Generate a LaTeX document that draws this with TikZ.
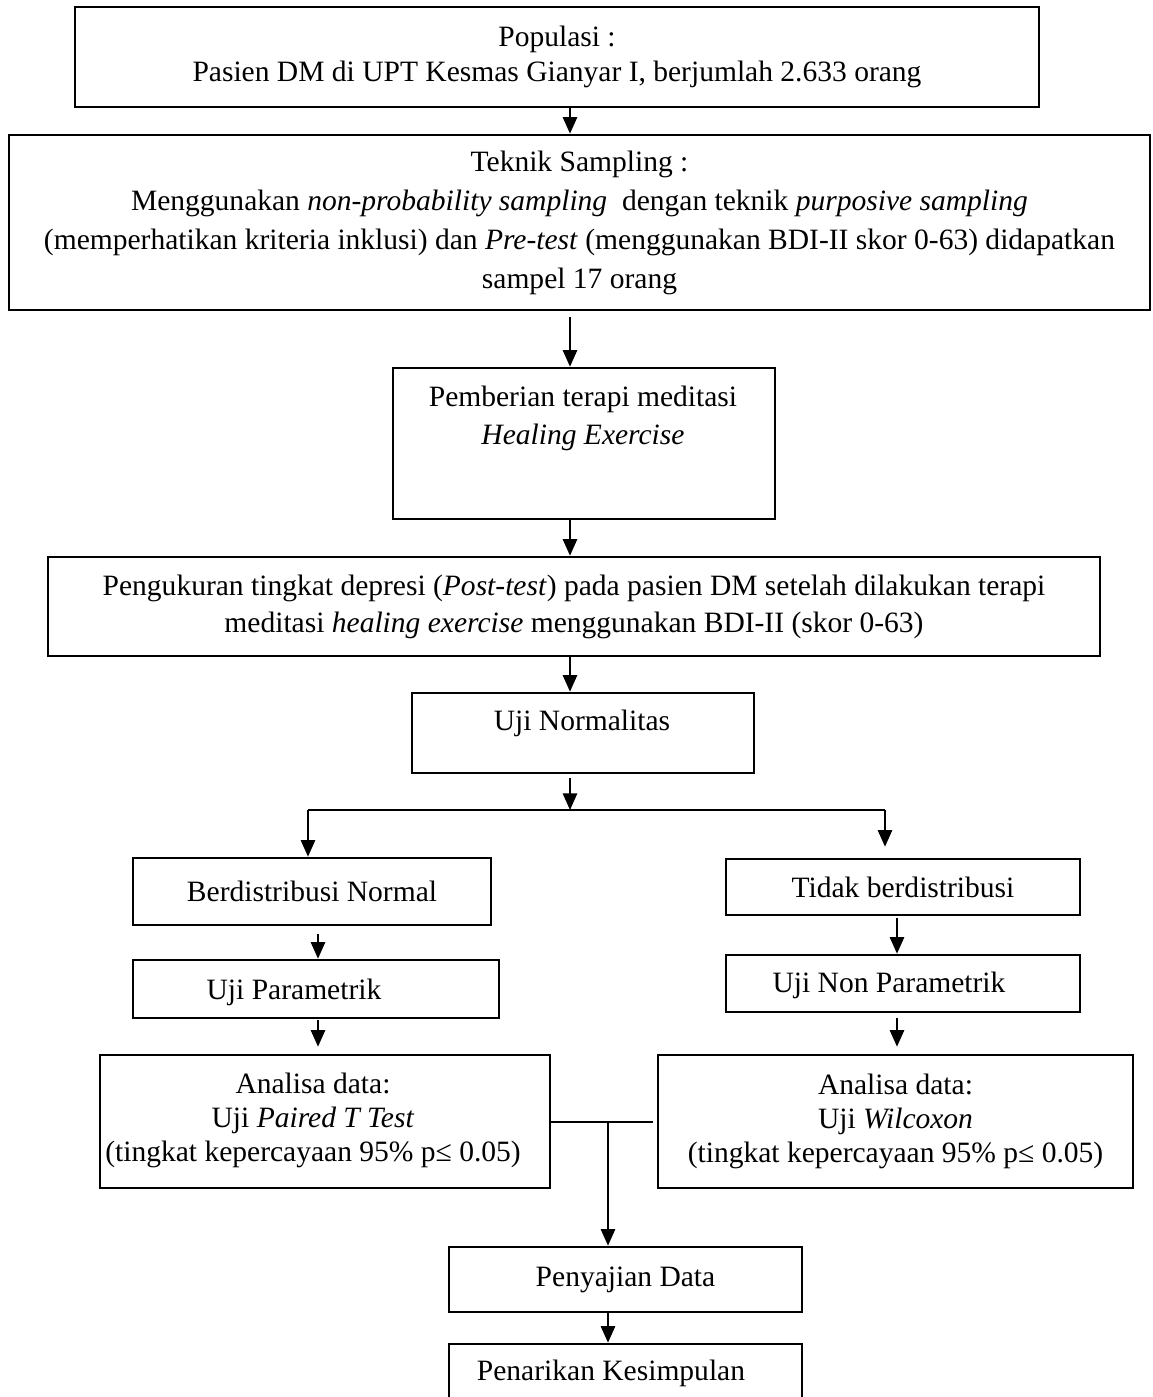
\documentclass[tikz,border=0pt]{standalone}
\usepackage{fontspec}
\setmainfont{Liberation Serif}
\usetikzlibrary{arrows.meta,calc}
\begin{document}
\begin{tikzpicture}[x=0.42pt,y=-0.42pt,
  box/.style={draw, line width=1.1pt, inner sep=0pt, align=center,
    font=\fontsize{12.4}{15.5}\selectfont},
  txt/.style={inner sep=0pt, align=center, font=\fontsize{12.4}{15.5}\selectfont},
  arr/.style={line width=0.85pt, -{Triangle[length=7pt,width=6pt]}},
  ln/.style={line width=0.85pt}]
\useasboundingbox (0,0) rectangle (1153,1397);
\fill[white] (0,0) rectangle (1153,1397);

% axes for connectors
\coordinate (ax) at (570,0);
\coordinate (axL) at (308,0);
\coordinate (axR) at (885,0);
\coordinate (axLb) at (318,0);
\coordinate (axRb) at (897,0);
\coordinate (axB) at (608,0);

% boxes
\node[box, minimum width=404.88pt, minimum height=42pt, font=\fontsize{12.4}{14.7}\selectfont]
  (b1) at (557,57) {Populasi :\\Pasien DM di UPT Kesmas Gianyar I, berjumlah 2.633 orang};
\node[box, minimum width=479.22pt, minimum height=73.5pt, font=\fontsize{12.4}{16.4}\selectfont]
  (b2) at (579.5,222.5) {Teknik Sampling :\\
  Menggunakan \textit{non-probability sampling}\ \ dengan teknik \textit{purposive sampling}\\
  (memperhatikan kriteria inklusi) dan \textit{Pre-test} (menggunakan BDI-II skor 0-63) didapatkan\\
  sampel 17 orang};
\node[box, minimum width=160.44pt, minimum height=63.42pt] (b3) at (584,443.5) {};
\node[txt, font=\fontsize{12.4}{16}\selectfont] (t3) at (583,418)
  {Pemberian terapi meditasi\\\textit{Healing Exercise}};
\node[box, minimum width=441.84pt, minimum height=41.58pt] (b4) at (574,606.5)
  {Pengukuran tingkat depresi (\textit{Post-test}) pada pasien DM setelah dilakukan terapi\\
  meditasi \textit{healing exercise} menggunakan BDI-II (skor 0-63)};
\node[box, minimum width=143.64pt, minimum height=33.6pt] (b5) at (583,733) {};
\node[txt] (t5) at (582,723) {Uji Normalitas};

\node[box, minimum width=150.36pt, minimum height=28.14pt] (bn) at (312,891.5) {Berdistribusi Normal};
\node[box, minimum width=148.68pt, minimum height=23.52pt] (tb) at (903,887) {Tidak berdistribusi};
\node[box, minimum width=153.72pt, minimum height=24.36pt] (up) at (316,989) {};
\node[txt] (tup) at (294,992) {Uji Parametrik};
\node[box, minimum width=148.68pt, minimum height=23.94pt] (unp) at (903,983.5) {};
\node[txt] (tunp) at (889,985) {Uji Non Parametrik};

\node[box, minimum width=189pt, minimum height=55.86pt] (ad1) at (325,1121.5) {};
\node[txt, font=\fontsize{12.4}{14.3}\selectfont] (tad1) at (313,1120)
  {Analisa data:\\Uji \textit{Paired T Test}\\(tingkat kepercayaan 95\% p≤ 0.05)};
\node[box, minimum width=199.5pt, minimum height=55.86pt, font=\fontsize{12.4}{14.3}\selectfont]
  (ad2) at (895.5,1121.5)
  {Analisa data:\\Uji \textit{Wilcoxon}\\(tingkat kepercayaan 95\% p≤ 0.05)};

\node[box, minimum width=148.26pt, minimum height=27.3pt] (pd) at (625.5,1279.5) {Penyajian Data};
\node[box, minimum width=148.26pt, minimum height=27.72pt] (pk) at (625.5,1377) {};
\node[txt] (tpk) at (611,1373) {Penarikan Kesimpulan};

% connectors
\draw[arr] (b1.south -| ax) -- (b2.north -| ax);
\draw[arr] ($(b2.south -| ax)+(0,6)$) -- (b3.north -| ax);
\draw[arr] (b3.south -| ax) -- (b4.north -| ax);
\draw[arr] (b4.south -| ax) -- (b5.north -| ax);
\coordinate (jn) at (570,810);
\coordinate (jL) at (308,810);
\coordinate (jR) at (885,810);
\draw[arr] ($(b5.south -| ax)+(0,4)$) -- (jn);
\draw[ln] (jL) -- (jR);
\draw[arr] (jL) -- (bn.north -| jL);
\draw[arr] (jR) -- ($(tb.north -| jR)+(0,-11)$);
\draw[arr] ($(bn.south -| axLb)+(0,8)$) -- (up.north -| axLb);
\draw[arr] ($(tb.south -| axRb)+(0,2)$) -- (unp.north -| axRb);
\draw[arr] ($(up.south -| axLb)+(0,1)$) -- ($(ad1.north -| axLb)+(0,-7)$);
\draw[arr] ($(unp.south -| axRb)+(0,5)$) -- ($(ad2.north -| axRb)+(0,-7)$);
\draw[ln] (ad1.east) -- ($(ad2.west)+(-4,0)$);
\coordinate (jB) at (ad1.east -| axB);
\draw[arr] (jB) -- (pd.north -| axB);
\draw[arr] (pd.south -| axB) -- (pk.north -| axB);
\end{tikzpicture}
\end{document}
